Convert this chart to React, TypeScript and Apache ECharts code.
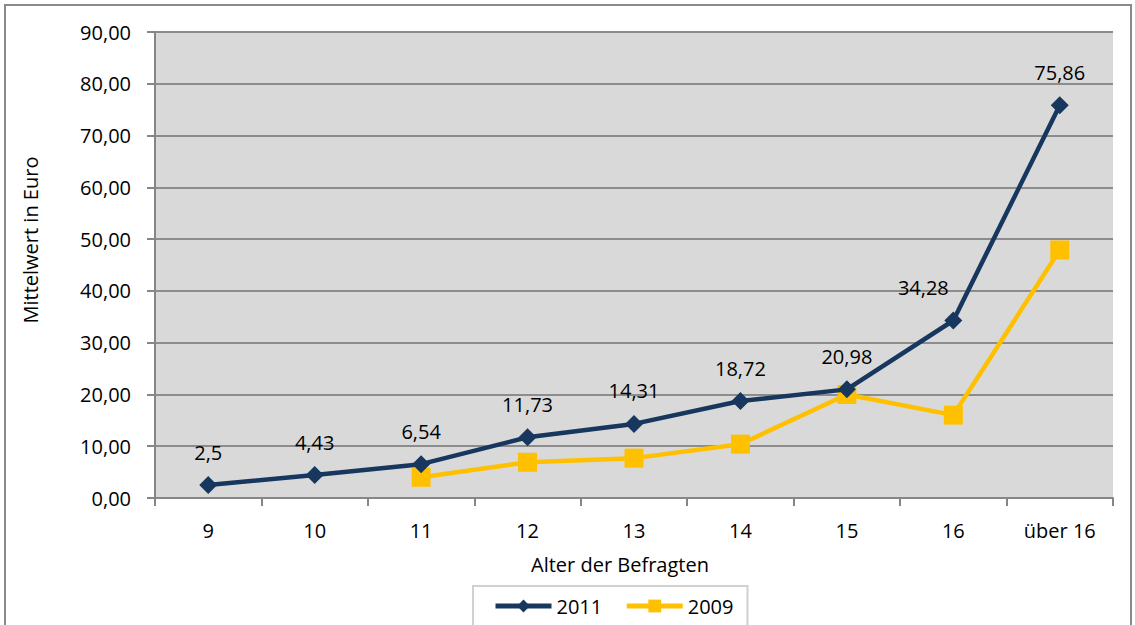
import React, { useEffect, useRef } from "react";
import * as echarts from "echarts";

const categories = ["9", "10", "11", "12", "13", "14", "15", "16", "über 16"];
const values2011 = [2.5, 4.43, 6.54, 11.73, 14.31, 18.72, 20.98, 34.28, 75.86];
const labels2011 = ["2,5", "4,43", "6,54", "11,73", "14,31", "18,72", "20,98", "34,28", "75,86"];
const values2009 = [null, null, 4.0, 6.9, 7.7, 10.4, 20.0, 16.0, 47.9];

const FONT = "'Open Sans', 'Noto Sans', sans-serif";
const FS = 20;

export default function App() {
  const ref = useRef<HTMLDivElement>(null);
  useEffect(() => {
    if (!ref.current) return;
    const chart = echarts.init(ref.current, null, { renderer: "svg" });
    chart.setOption({
      animation: false,
      backgroundColor: "#ffffff",
      textStyle: { fontFamily: FONT },
      graphic: [
        {
          type: "rect",
          shape: { x: 5, y: 5, width: 1126, height: 640 },
          style: { fill: "none", stroke: "#8a8a8a", lineWidth: 2 },
          silent: true,
        },
        {
          type: "text",
          x: 30,
          y: 240,
          rotation: Math.PI / 2,
          style: {
            text: "Mittelwert in Euro",
            fontSize: FS,
            fontFamily: FONT,
            fill: "#000",
            align: "center",
            verticalAlign: "middle",
          },
          silent: true,
        },
      ],
      grid: {
        left: 155,
        right: 22,
        top: 32,
        bottom: 127,
        show: true,
        backgroundColor: "#d9d9d9",
        borderWidth: 0,
      },
      legend: {
        top: 586,
        left: 473,
        data: ["2011", "2009"],
        itemWidth: 56,
        itemHeight: 16,
        itemGap: 22,
        padding: [10, 14, 14, 20],
        borderColor: "#d0d0d0",
        borderWidth: 2,
        lineStyle: { width: 5 },
        textStyle: { fontSize: FS, color: "#000", fontFamily: FONT },
      },
      xAxis: {
        type: "category",
        data: categories,
        boundaryGap: true,
        name: "Alter der Befragten",
        nameLocation: "middle",
        nameGap: 56,
        nameTextStyle: { fontSize: FS, color: "#000", fontFamily: FONT, padding: [0, 28, 0, 0] },
        axisLine: { lineStyle: { color: "#868686", width: 2 } },
        axisTick: { show: true, length: 8, lineStyle: { color: "#868686", width: 2 } },
        axisLabel: { fontSize: FS, color: "#000", margin: 22, fontFamily: FONT },
      },
      yAxis: {
        type: "value",
        min: 0,
        max: 90,
        interval: 10,
        axisLine: { show: true, lineStyle: { color: "#868686", width: 2 } },
        axisTick: { show: true, length: 8, lineStyle: { color: "#868686", width: 2 } },
        axisLabel: {
          fontSize: FS,
          color: "#000",
          margin: 24,
          fontFamily: FONT,
          formatter: (v: number) => v.toFixed(2).replace(".", ","),
        },
        splitLine: { show: true, lineStyle: { color: "#8c8c8c", width: 2 } },
      },
      series: [
        {
          name: "2011",
          type: "line",
          data: values2011,
          color: "#17375e",
          symbol: "diamond",
          symbolSize: 18,
          lineStyle: { width: 4.5, color: "#17375e" },
          itemStyle: { color: "#17375e" },
          z: 3,
          label: {
            show: true,
            position: "top",
            distance: 14,
            fontSize: FS,
            color: "#000",
            fontFamily: FONT,
            formatter: (p: any) => labels2011[p.dataIndex],
          },
          labelLayout: (params: any) =>
            params.dataIndex === 7 ? { dx: -30 } : {},
        },
        {
          name: "2009",
          type: "line",
          data: values2009,
          color: "#ffc000",
          symbol: "rect",
          symbolSize: 19,
          connectNulls: false,
          lineStyle: { width: 4.5, color: "#ffc000" },
          itemStyle: { color: "#ffc000" },
          z: 2,
        },
      ],
    });
    return () => chart.dispose();
  }, []);
  return (
    <div
      ref={ref}
      style={{ position: "fixed", left: 0, top: 0, width: 1135, height: 625 }}
    />
  );
}
